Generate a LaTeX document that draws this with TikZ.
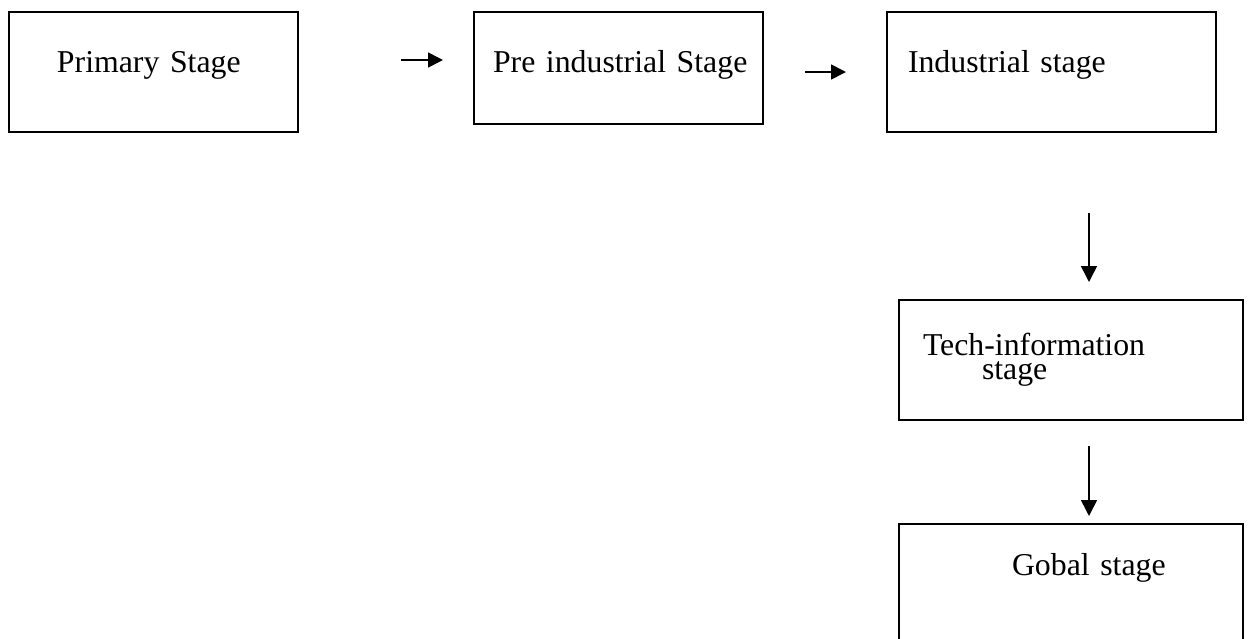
\documentclass[tikz,border=0pt]{standalone}
\usepackage{fontspec}
\setmainfont{Liberation Serif}
\usetikzlibrary{arrows.meta,positioning,calc}

\begin{document}
\begin{tikzpicture}[x=0.5pt, y=-0.5pt, font=\fontsize{15.9}{19}\selectfont,
  stagebox/.style={draw, line width=1pt, inner xsep=0pt, inner ysep=0pt,
                   align=left},
  arr/.style={-{Triangle[length=7.5pt,width=7.5pt]}, line width=0.8pt},
  darr/.style={-{Triangle[length=8pt,width=8pt]}, line width=0.8pt}]
\useasboundingbox (0,0) rectangle (1249,638);

\node[stagebox, text width=144.5pt, minimum height=60pt,
      text height=8pt, text depth=8pt] (primary) at (153.5,72)
  {\hspace*{24pt}Primary Stage};
\node[stagebox, text width=144.5pt, minimum height=56pt,
      text height=10pt, text depth=6pt] (pre) at (618.5,68)
  {\hspace*{9.5pt}Pre industrial Stage};
\node[stagebox, text width=164.5pt, minimum height=60pt,
      text height=8pt, text depth=8pt] (industrial) at (1051.5,72)
  {\hspace*{10.5pt}Industrial stage};
\node[stagebox, text width=172pt, minimum height=60pt,
      font=\fontsize{15.9}{12}\selectfont] (tech) at (1071,360)
  {\hspace*{12pt}Tech-information\\\hspace*{41.5pt}stage};
\node[stagebox, text width=172pt, minimum height=60pt,
      text height=4pt, text depth=13pt] (gobal) at (1071,584)
  {\hspace*{56.5pt}Gobal stage};

\draw[arr, shorten <=51pt, shorten >=15pt]
  ([yshift=6pt]primary.east) -- ([yshift=6pt]primary.east -| pre.west);
\draw[arr, shorten <=20.5pt, shorten >=20pt]
  (industrial.west -| pre.east) -- (industrial.west);
\draw[darr, shorten <=40pt, shorten >=8.5pt]
  ([xshift=9pt]tech.north |- industrial.south) -- ([xshift=9pt]tech.north);
\draw[darr, shorten <=12.5pt, shorten >=3.5pt]
  ([xshift=9pt]tech.south) -- ([xshift=9pt]tech.south |- gobal.north);
\end{tikzpicture}
\end{document}
